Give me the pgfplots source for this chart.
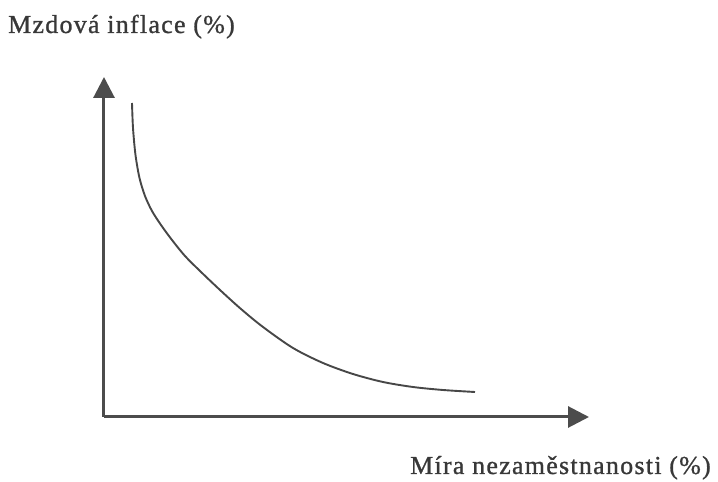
\documentclass[border=0pt]{standalone}
\usepackage{fontspec}
\setmainfont{Liberation Serif}
\usepackage{pgfplots}
\pgfplotsset{compat=1.18}
\usetikzlibrary{arrows.meta}
\begin{document}
\begin{tikzpicture}
\begin{axis}[
  x=1bp, y=1bp,
  xmin=104, xmax=589, ymin=65, ymax=405,
  axis lines=left,
  axis line style={black!70, line width=3bp, -{Triangle[length=21bp,width=21bp]}},
  xtick=\empty, ytick=\empty,
  clip=false,
]
\path (axis cs:0,0) rectangle (axis cs:718,482);
\addplot[smooth, tension=0.5, black!72, line width=1.9bp] coordinates {
(132,379) (133,354) (135.5,327) (139.5,304) (145,286) (152,271) (161,257)
(172,242) (185,226) (200,211) (220,192) (241,173) (263,155) (293,134)
(323,119) (353,108) (383,100) (413,95) (443,92) (475,90)
};
\node[anchor=base west, inner sep=0pt, text=black!78, font=\fontsize{26}{30}\selectfont\addfontfeatures{LetterSpace=5,FakeBold=1}] at (axis cs:8,449) {Mzdová inflace (\%)};
\node[anchor=base west, inner sep=0pt, text=black!78, font=\fontsize{26}{30}\selectfont\addfontfeatures{LetterSpace=5,FakeBold=1}] at (axis cs:410,8) {Míra nezaměstnanosti (\%)};
\end{axis}
\end{tikzpicture}
\end{document}
